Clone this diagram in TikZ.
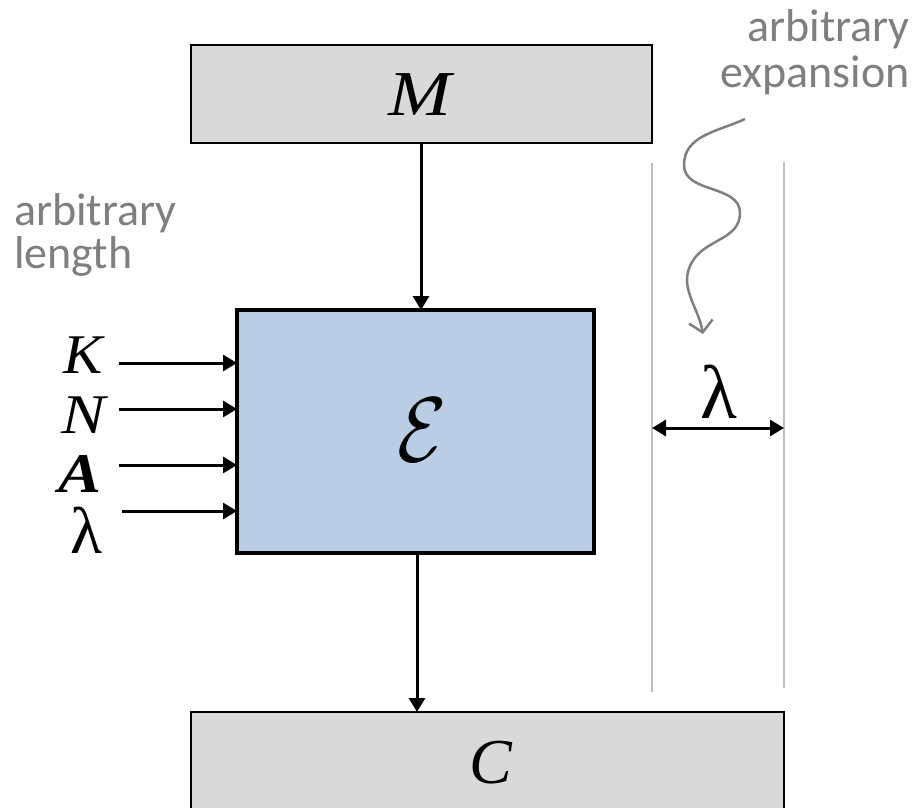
\documentclass[tikz,border=0pt]{standalone}
\usepackage{fontspec}
\usepackage{graphicx}
\setmainfont{Liberation Serif}
\newfontfamily\notefont{Carlito}
\usetikzlibrary{arrows.meta}
\definecolor{boxgray}{HTML}{D9D9D9}
\definecolor{boxblue}{HTML}{B9CDE5}
\definecolor{notegray}{HTML}{7F7F7F}
\definecolor{linegray}{HTML}{BFBFBF}
\begin{document}
\begin{tikzpicture}[x=1pt,y=-1pt,
  graybox/.style={draw=black,line width=2pt,fill=boxgray,inner sep=0pt},
  bluebox/.style={draw=black,line width=4pt,fill=boxblue,inner sep=0pt},
  flow/.style={line width=3pt,-{Triangle[length=14pt,width=16pt]}},
  var/.style={inner sep=0pt,font=\fontsize{56}{60}\selectfont},
  biglam/.style={inner sep=0pt,font=\fontsize{76}{80}\selectfont},
  note/.style={text=notegray,inner sep=0pt},
  guide/.style={draw=linegray,line width=2pt}]
\useasboundingbox (0,0) rectangle (916,808);
% boxes
\path[graybox] (191,45) rectangle (652,143);
\node[var,font=\fontsize{64}{68}\selectfont] (M) at (422,95) {\scalebox{1.18}[1]{\textit{M}}};
\coordinate (Mb) at (421,143);
\path[bluebox] (237,310) rectangle (594,553);
\node[inner sep=0pt] (E) at (422,430) {\scalebox{8}[9.2]{$\mathcal{E}$}};
\coordinate (Et) at (421,310);
\coordinate (Eb) at (417,553);
\path[graybox] (191,712) rectangle (784,830);
\node[var,font=\fontsize{64}{68}\selectfont] (C) at (491,763) {\textit{C}};
\coordinate (Ct) at (417,712);
% main flow
\draw[flow] (Mb) -- (Et);
\draw[flow] (Eb) -- (Ct);
% inputs
\node[var] (K) at (84,355) {\scalebox{1.05}[1]{\textit{K}}};
\node[var] (N) at (85,415) {\scalebox{1.18}[1]{\textit{N}}};
\node[var] (A) at (80,474) {\scalebox{1.15}[1]{\textbf{\textit{A}}}};
\node[inner sep=0pt,font=\fontsize{66}{70}\selectfont] (L) at (86,530) {λ};
\coordinate (Ks) at (119,363); \coordinate (Ke) at (237,363);
\coordinate (Ns) at (119,409); \coordinate (Ne) at (237,409);
\coordinate (As) at (119,465); \coordinate (Ae) at (237,465);
\coordinate (Ls) at (122,511); \coordinate (Le) at (237,511);
\draw[flow] (Ks) -- (Ke);
\draw[flow] (Ns) -- (Ne);
\draw[flow] (As) -- (Ae);
\draw[flow] (Ls) -- (Le);
% guides
\coordinate (g1t) at (652,163); \coordinate (g1b) at (652,692);
\coordinate (g2t) at (784,162); \coordinate (g2b) at (784,688);
\draw[guide] (g1t) -- (g1b);
\draw[guide] (g2t) -- (g2b);
\coordinate (w1) at (652,428); \coordinate (w2) at (784,428);
\draw[line width=3pt,{Triangle[length=14pt,width=16pt]}-{Triangle[length=14pt,width=16pt]}] (w1) -- (w2);
\node[biglam] (lam) at (719,392) {λ};
% notes
\node[note,anchor=base east,align=right,font=\notefont\fontsize{46}{46}\selectfont] (exp) at (910,88) {arbitrary\\expansion};
\node[note,anchor=base west,align=left,font=\notefont\fontsize{46}{43}\selectfont] (len) at (14,268) {arbitrary\\length};
\coordinate (ws) at (745,119);
\coordinate (we) at (703,334);
\draw[notegray,line width=2.5pt,-{Straight Barb[length=11pt,width=24pt]}]
  (ws) to[out=205,in=90] (684,165) to[out=-90,in=90] (740,213)
  to[out=-90,in=60] (692,262) to[out=-120,in=100] (we);
\end{tikzpicture}
\end{document}
